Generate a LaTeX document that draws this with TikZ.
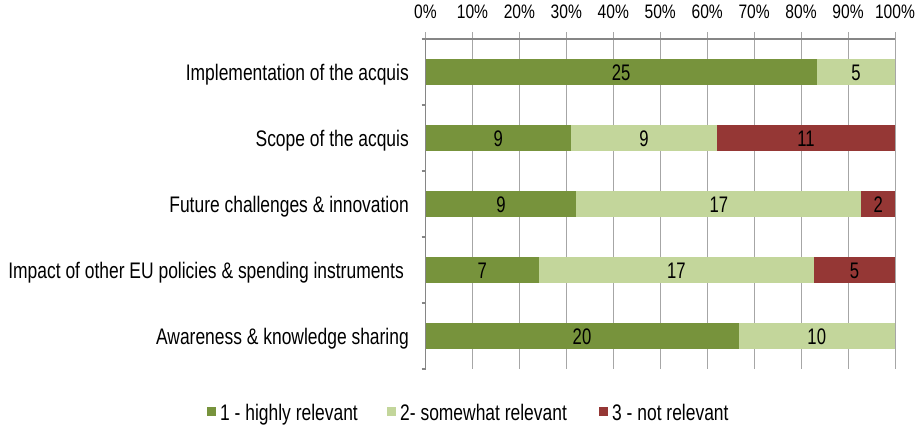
\documentclass[tikz,border=0pt]{standalone}
\usepackage{fontspec}
\setmainfont{Liberation Sans}[FakeStretch=0.775]
\newfontfamily\pctfont{Liberation Sans}[FakeStretch=0.8]
\newfontfamily\valfont{Liberation Sans}[FakeStretch=0.74]
\definecolor{dg}{HTML}{77933C}
\definecolor{lg}{HTML}{C3D69B}
\definecolor{rd}{HTML}{953735}
\definecolor{gridc}{HTML}{A6A6A6}
\definecolor{axisc}{HTML}{868686}
\begin{document}
\begin{tikzpicture}[x=1pt,y=-1pt,
  lbl/.style={inner sep=0pt,font=\fontsize{22.5}{27}\selectfont},
  catlbl/.style={lbl,anchor=base east},
  pctlbl/.style={inner sep=0pt,anchor=base,font=\pctfont\fontsize{19.5}{24}\selectfont},
  vallbl/.style={inner sep=0pt,anchor=base,font=\valfont\fontsize{22.5}{27}\selectfont},
  gridline/.style={draw=gridc,line width=1pt},
  axisline/.style={draw=axisc,line width=1.3pt},
  legsq/.style={inner sep=0pt,minimum size=9pt,anchor=north west}]
\useasboundingbox (0,0) rectangle (918,424);
\def\xa{425.5}\def\w{469.5}
% gridlines and top ticks
\foreach \i in {0,...,10}{
  \draw[gridline] ({\xa+\i/10*\w},32) -- ({\xa+\i/10*\w},369);
}
\foreach \i/\t in {0/0,1/10,2/20,3/30,4/40,5/50,6/60,7/70,8/80,9/90,10/100}{
  \node[pctlbl] (p\i) at ({\xa+\i/10*\w},18) {\t\%};
}
% top axis line
\draw[axisline] (\xa,39) -- ({\xa+\w},39);
% left axis
\draw[axisline] (\xa,39) -- (\xa,369);
\foreach \j in {0,...,5}{
  \draw[axisline] ({\xa-4},{39+\j*66}) -- (\xa,{39+\j*66});
}
% segments: \seg{row}{start%}{end%}{color}{label}
\newcommand\seg[5]{%
  \fill[#4] ({\xa+#2/100*\w},{72+#1*66-13}) rectangle ({\xa+#3/100*\w},{72+#1*66+13});
  \node[vallbl] at ({\xa+(#2+#3)/200*\w},{72+#1*66+8}) {#5};}
% row 0
\seg{0}{0}{83.333}{dg}{25}
\seg{0}{83.333}{100}{lg}{5}
% row 1
\seg{1}{0}{31.034}{dg}{9}
\seg{1}{31.034}{62.069}{lg}{9}
\seg{1}{62.069}{100}{rd}{11}
% row 2
\seg{2}{0}{32.143}{dg}{9}
\seg{2}{32.143}{92.857}{lg}{17}
\seg{2}{92.857}{100}{rd}{2}
% row 3
\seg{3}{0}{24.138}{dg}{7}
\seg{3}{24.138}{82.759}{lg}{17}
\seg{3}{82.759}{100}{rd}{5}
% row 4
\seg{4}{0}{66.667}{dg}{20}
\seg{4}{66.667}{100}{lg}{10}
% category labels
\node[catlbl] (c0) at (409,80) {Implementation of the acquis};
\node[catlbl] (c1) at (409,146) {Scope of the acquis};
\node[catlbl] (c2) at (409,212) {Future challenges \& innovation};
\node[catlbl] (c3) at (404,278) {Impact of other EU policies \& spending instruments};
\node[catlbl] (c4) at (409,344) {Awareness \& knowledge sharing};
% legend
\node[legsq,fill=dg] (s1) at (207,407) {};
\node[lbl,anchor=base west] (t1) at (220,420) {1 - highly relevant};
\node[legsq,fill=lg] (s2) at (387,407) {};
\node[lbl,anchor=base west] (t2) at (400,420) {2- somewhat relevant};
\node[legsq,fill=rd] (s3) at (599,407) {};
\node[lbl,anchor=base west] (t3) at (612,420) {3 - not relevant};
\end{tikzpicture}
\end{document}
